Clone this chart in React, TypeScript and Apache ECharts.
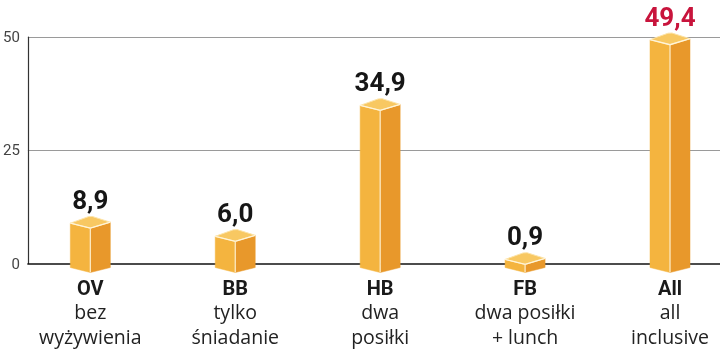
import React, { useEffect, useRef } from "react";
import * as echarts from "echarts";

const codes = ["OV", "BB", "HB", "FB", "All"];
const descriptions = [
  ["bez", "wyżywienia"],
  ["tylko", "śniadanie"],
  ["dwa", "posiłki"],
  ["dwa posiłki", "+ lunch"],
  ["all", "inclusive"],
];
const values = [8.9, 6.0, 34.9, 0.9, 49.4];
const valueLabels = ["8,9", "6,0", "34,9", "0,9", "49,4"];
const highlightIndex = 4;
const yTicks = [0, 25, 50];

const FONT = "Roboto, 'Open Sans', sans-serif";
const FONT2 = "'Open Sans', Roboto, sans-serif";

export default function App() {
  const ref = useRef<HTMLDivElement>(null);
  useEffect(() => {
    if (!ref.current) return;
    const chart = echarts.init(ref.current, null, { renderer: "svg" });
    const data = values.map((v, i) => [i, v]);
    chart.setOption({
      animation: false,
      grid: { left: 27.5, right: 0, top: 37, height: 226.5, containLabel: false },
      xAxis: {
        type: "value",
        min: -0.431,
        max: 4.345,
        axisLine: { show: true, onZero: false, lineStyle: { color: "#111", width: 1.5 } },
        axisTick: { show: false },
        axisLabel: { show: false },
        splitLine: { show: false },
      },
      yAxis: {
        type: "value",
        min: yTicks[0],
        max: yTicks[yTicks.length - 1],
        interval: 25,
        axisLine: { show: true, onZero: false, lineStyle: { color: "#333", width: 1.2 } },
        axisTick: { show: false },
        axisLabel: { color: "#444", fontSize: 15, fontFamily: FONT, margin: 8 },
        splitLine: { show: true, lineStyle: { color: ["transparent", "#9a9a9a", "#9a9a9a"], width: 1 } },
      },
      series: [
        {
          type: "custom",
          clip: false,
          data,
          renderItem: (params: any, api: any) => {
            const i = api.value(0);
            const v = api.value(1);
            const [xc, yv] = api.coord([i, v]);
            const [, y0] = api.coord([i, 0]);
            const hw = 20;
            const left = [[xc - hw, yv], [xc, yv + 5], [xc, y0 + 9], [xc - hw, y0 + 4]];
            const right = [[xc, yv + 5], [xc + hw, yv - 1], [xc + hw, y0 + 4], [xc, y0 + 9]];
            const top = [[xc - hw, yv], [xc - 2, yv - 6.5], [xc + 2, yv - 6.7], [xc + hw, yv - 1], [xc, yv + 5]];
            const idx = params.dataIndex;
            const desc = descriptions[idx];
            const children: any[] = [
              { type: "polygon", shape: { points: left }, style: { fill: "#F4B43F", stroke: "#F4B43F", lineWidth: 0.5 } },
              { type: "polygon", shape: { points: right }, style: { fill: "#E8982B", stroke: "#E8982B", lineWidth: 0.5 } },
              { type: "polygon", shape: { points: top }, style: { fill: "#F8C862", stroke: "#FCE3A8", lineWidth: 1 } },
              { type: "polyline", shape: { points: [[xc - hw, yv], [xc, yv + 5], [xc + hw, yv - 1]] }, style: { fill: null, stroke: "#FFF4D8", lineWidth: 1.3 } },
              { type: "line", shape: { x1: xc, y1: yv + 5, x2: xc, y2: y0 + 9 }, style: { stroke: "#FDEBC4", lineWidth: 1.3 } },
              {
                type: "text",
                style: {
                  text: valueLabels[idx],
                  x: xc,
                  y: yv - 23,
                  align: "center",
                  verticalAlign: "middle",
                  fontSize: 26,
                  fontWeight: "bold",
                  fontFamily: FONT,
                  fill: idx === highlightIndex ? "#C8143C" : "#161616",
                },
              },
              {
                type: "text",
                style: {
                  text: codes[idx],
                  x: xc,
                  y: y0 + 24,
                  align: "center",
                  verticalAlign: "middle",
                  fontSize: 20,
                  fontWeight: "bold",
                  fontFamily: FONT,
                  fill: "#1a1a1a",
                },
              },
            ];
            desc.forEach((line, k) => {
              children.push({
                type: "text",
                style: {
                  text: line,
                  x: xc,
                  y: y0 + 48 + k * 24.5,
                  align: "center",
                  verticalAlign: "middle",
                  fontSize: 19.5,
                  fontFamily: FONT2,
                  fill: "#222",
                },
              });
            });
            return { type: "group", children };
          },
        },
      ],
    });
    return () => chart.dispose();
  }, []);
  return <div ref={ref} style={{ position: "fixed", left: 0, top: 0, width: 720, height: 351 }} />;
}
